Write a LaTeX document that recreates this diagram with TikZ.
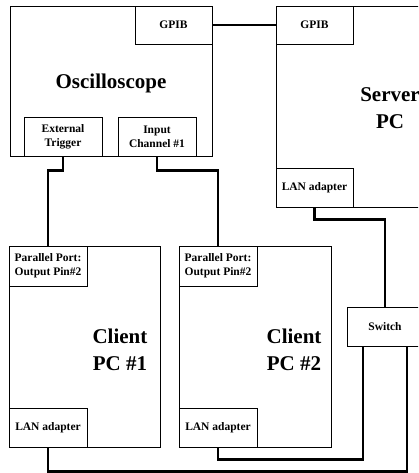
\documentclass[tikz,border=0pt]{standalone}
\usepackage{fontspec}
\setmainfont{Liberation Serif}
\begin{document}
\begin{tikzpicture}[x=1pt,y=-1pt,
  unit/.style={draw, line width=0.8pt, fill=white, inner sep=0pt},
  port/.style={unit, align=center, font=\bfseries\fontsize{11.5}{14}\selectfont},
  title/.style={align=center, font=\bfseries\fontsize{21}{27}\selectfont},
  wire/.style={line width=2.2pt}]
\useasboundingbox (0,0) rectangle (418,473);
\clip (0,0) rectangle (418,473);

% main units
\node[unit, minimum width=202pt, minimum height=150pt] (osc) at (111,81) {};
\node[unit, minimum width=228pt, minimum height=201pt] (server) at (390,106.5) {};
\node[unit, minimum width=151pt, minimum height=201pt] (c1) at (84.5,346.5) {};
\node[unit, minimum width=152pt, minimum height=201pt] (c2) at (255,346.5) {};

\node[title] (osct) at (111,83) {Oscilloscope};
\node[title] (servert) at (390,108) {Server\\PC};
\node[title] (c1t) at (120,350) {Client\\PC \#1};
\node[title] (c2t) at (294,350) {Client\\PC \#2};

% ports
\node[port, minimum width=77pt, minimum height=38pt] (ogpib) at (173.5,25) {GPIB};
\node[port, minimum width=78pt, minimum height=39pt] (trig) at (63,136.5) {External\\Trigger};
\node[port, minimum width=78pt, minimum height=39pt] (inch) at (157,136.5) {Input\\Channel \#1};
\node[port, minimum width=77pt, minimum height=38pt] (sgpib) at (314.5,25) {GPIB};
\node[port, minimum width=77pt, minimum height=39pt] (slan) at (314.5,187.5) {LAN adapter};
\node[port, minimum width=78pt, minimum height=40pt] (c1par) at (48,266) {Parallel Port:\\Output Pin\#2};
\node[port, minimum width=78pt, minimum height=39pt] (c1lan) at (48,427.5) {LAN adapter};
\node[port, minimum width=78pt, minimum height=40pt] (c2par) at (218,266) {Parallel Port:\\Output Pin\#2};
\node[port, minimum width=78pt, minimum height=39pt] (c2lan) at (218,427.5) {LAN adapter};
\node[port, minimum width=76pt, minimum height=39pt] (switch) at (385,326.5) {Switch};

% cabling
\draw[wire] (ogpib.east) -- (sgpib.west);
\draw[wire] (trig.south) -- ++(0,14) -| (c1par.north);
\draw[wire] (inch.south) -- ++(0,14) -| (c2par.north);
\draw[wire] (slan.south) -- ++(0,12) -| (switch.north);
\draw[wire] ([xshift=-22pt]switch.south) -- ++(0,113) -| (c2lan.south);
\draw[wire] ([xshift=22pt]switch.south) -- ++(0,125) -| (c1lan.south);
\end{tikzpicture}
\end{document}
